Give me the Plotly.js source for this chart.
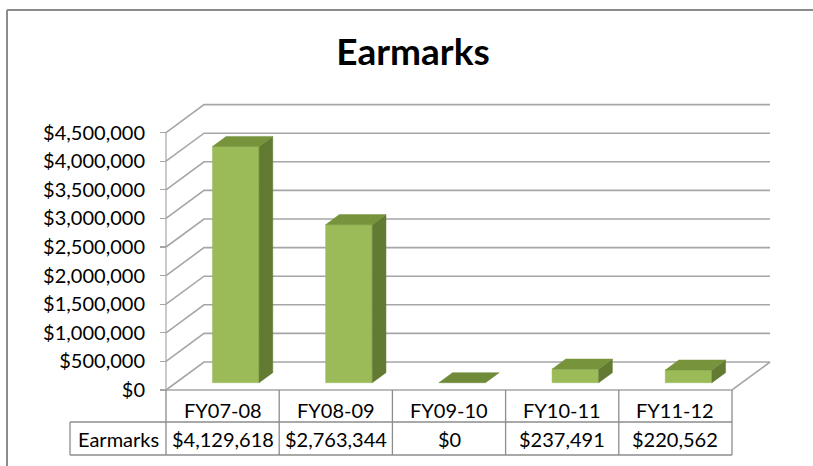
<!DOCTYPE html>
<html>
<head>
<meta charset="utf-8">
<script src="https://cdn.plot.ly/plotly-3.0.1.min.js"></script>
<style>html,body{margin:0;padding:0;background:#fff;overflow:hidden;}#chart{width:813px;height:466px;}</style>
</head>
<body>
<div id="chart"></div>
<script>
// ---- data ----
const categories = ['FY07-08', 'FY08-09', 'FY09-10', 'FY10-11', 'FY11-12'];
const earmarks = [4129618, 2763344, 0, 237491, 220562];
const seriesName = 'Earmarks';
const tickValues = [0, 500000, 1000000, 1500000, 2000000, 2500000, 3000000, 3500000, 4000000, 4500000];

// ---- 3D projection constants (layout only) ----
const DU = 0.336;      // depth shift along category axis
const DV = 489500;     // depth shift along value axis
const BAR_OFF = 0.323, BAR_W = 0.412, Z0 = 0.26, Z1 = 0.62;
const N = categories.length;
const VMAX = tickValues[tickValues.length - 1];

function fmt(v) { return '$' + v.toLocaleString('en-US'); }
function P(u, v, z) { return [u + z * DU, v + z * DV]; }

const traces = [];
function poly(pts, fill) {
  const xs = pts.map(p => p[0]), ys = pts.map(p => p[1]);
  xs.push(xs[0]); ys.push(ys[0]);
  traces.push({x: xs, y: ys, mode: 'lines', fill: 'toself', fillcolor: fill,
    line: {color: fill, width: 0.5}, hoverinfo: 'skip', showlegend: false});
}
function line(pts, color, w) {
  traces.push({x: pts.map(p => p[0]), y: pts.map(p => p[1]), mode: 'lines',
    line: {color: color, width: w}, hoverinfo: 'skip', showlegend: false});
}

const GRID = '#a6a6a6';
// back wall gridlines with side-wall diagonals
tickValues.forEach(v => {
  line([P(0, v, 0), P(0, v, 1), P(N, v, 1)], GRID, 1.6);
});
// value axis line
line([P(0, 0, 0), P(0, VMAX, 0)], GRID, 1.2);
// floor front and right edges
line([P(0, 0, 0), P(N, 0, 0), P(N, 0, 1)], GRID, 1.6);

// bars
const FRONT = '#9bbb59', TOP = '#77933c', SIDE = '#637a32';
earmarks.forEach((val, i) => {
  const u0 = i + BAR_OFF, u1 = u0 + BAR_W;
  if (val > 0) {
    poly([P(u0, 0, Z0), P(u1, 0, Z0), P(u1, val, Z0), P(u0, val, Z0)], FRONT);
    poly([P(u1, 0, Z0), P(u1, 0, Z1), P(u1, val, Z1), P(u1, val, Z0)], SIDE);
  }
  poly([P(u0, val, Z0), P(u1, val, Z0), P(u1, val, Z1), P(u0, val, Z1)], val > 0 ? TOP : '#6f8a38');
});

// ---- data table (layout) ----
const H = 466;
const yp = py => 1 - py / H;
const TAB = '#8c8c8c';
const LABEL_LEFT_U = -0.848;
const shapes = [];
for (let i = 0; i <= N; i++) {
  shapes.push({type: 'line', xref: 'x', yref: 'paper', x0: i, x1: i, y0: yp(390), y1: yp(455), line: {color: TAB, width: 1.3}});
}
shapes.push({type: 'line', xref: 'x', yref: 'paper', x0: LABEL_LEFT_U, x1: N, y0: yp(422), y1: yp(422), line: {color: TAB, width: 1.3}});
shapes.push({type: 'line', xref: 'x', yref: 'paper', x0: LABEL_LEFT_U, x1: N, y0: yp(455), y1: yp(455), line: {color: TAB, width: 1.3}});
shapes.push({type: 'line', xref: 'x', yref: 'paper', x0: LABEL_LEFT_U, x1: LABEL_LEFT_U, y0: yp(422), y1: yp(455), line: {color: TAB, width: 1.3}});
// chart frame (top and left edges visible)
shapes.push({type: 'line', xref: 'paper', yref: 'paper', x0: 7 / 813, x1: 1, y0: yp(10), y1: yp(10), line: {color: '#8c8c8c', width: 2}});
shapes.push({type: 'line', xref: 'paper', yref: 'paper', x0: 7 / 813, x1: 7 / 813, y0: 0, y1: yp(10), line: {color: '#8c8c8c', width: 2}});

const FONT = 'Lato, "Open Sans", sans-serif';
const FS = 20;
const annotations = [];
categories.forEach((c, i) => {
  annotations.push({xref: 'x', yref: 'paper', x: i + 0.5, y: yp(410), text: c, showarrow: false,
    xanchor: 'center', yanchor: 'middle', font: {family: FONT, size: FS, color: '#000'}});
  annotations.push({xref: 'x', yref: 'paper', x: i + 0.5, y: yp(439), text: fmt(earmarks[i]), showarrow: false,
    xanchor: 'center', yanchor: 'middle', font: {family: FONT, size: FS, color: '#000'}});
});
annotations.push({xref: 'x', yref: 'paper', x: (LABEL_LEFT_U) / 2, y: yp(439), text: seriesName, showarrow: false,
  xanchor: 'center', yanchor: 'middle', font: {family: FONT, size: FS, color: '#000'}});

const layout = {
  width: 813, height: 466,
  margin: {l: 0, r: 0, t: 0, b: 0},
  paper_bgcolor: '#fff', plot_bgcolor: '#fff',
  showlegend: false,
  title: {text: '<b>' + seriesName + '</b>', x: 413 / 813, xanchor: 'center', y: 1 - 52 / H, yanchor: 'middle',
    xref: 'paper', yref: 'container', font: {family: FONT, size: 37, color: '#000'}},
  xaxis: {range: [-166 / 113.2, 647 / 113.2], visible: false, fixedrange: true},
  yaxis: {range: [-76 / 5.72e-5, 390 / 5.72e-5], anchor: 'free', position: 166 / 813,
    showgrid: false, zeroline: false, showline: false,
    ticks: 'outside', ticklen: 6, tickwidth: 1.2, tickcolor: GRID,
    tickvals: tickValues, ticktext: tickValues.map(fmt), ticklabelstandoff: 11,
    tickfont: {family: FONT, size: FS, color: '#000'}, fixedrange: true},
  shapes: shapes,
  annotations: annotations
};

Plotly.newPlot('chart', traces, layout, {displayModeBar: false, staticPlot: true});
</script>
</body>
</html>
